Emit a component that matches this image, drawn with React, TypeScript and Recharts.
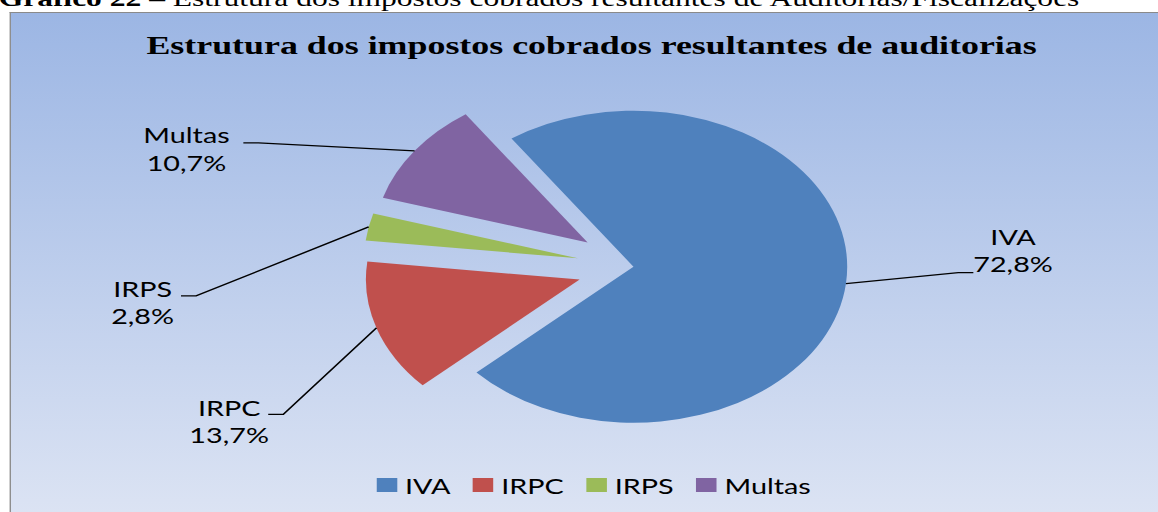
import React from "react";
import { PieChart, Pie, Cell, Legend, Sector } from "recharts";

// values (percent of total)
const CATEGORIES = ["IVA", "IRPC", "IRPS", "Multas"];
const SHARES = [72.8, 13.7, 2.8, 10.7];
const COLORS = ["#4f81bd", "#c0504d", "#9bbb59", "#8064a2"];
const EXPLODED = ["IRPC", "IRPS", "Multas"];

const data = CATEGORIES.map((name, i) => ({ name, value: SHARES[i] }));

// the source picture is stretched horizontally; draw unstretched and scale the box
const STRETCH = 1.37;
const W = 1158 / STRETCH;
const RADIAN = Math.PI / 180;
const EXPLODE = 0.265;
const FONT = "Lato, 'Open Sans', sans-serif";

// label layout relative to the slice edge point (unstretched px)
const LABEL_POS: Record<string, { dx: number; dy: number; stub: number; tx: number; ty: number }> = {
  IVA: { dx: 82, dy: -11, stub: 11, tx: 40, ty: -27.7 },
  IRPC: { dx: -68, dy: 86.5, stub: -11, tx: -39.5, ty: 1.7 },
  IRPS: { dx: -126, dy: 69, stub: -11, tx: -39, ty: 0.7 },
  Multas: { dx: -114, dy: -8, stub: -11, tx: -52.5, ty: 0.3 },
};

const fmt = (v: number) => `${v.toFixed(1).replace(".", ",")}%`;

function sliceName(props: any) {
  return props.payload?.name ?? props.name ?? CATEGORIES[props.index];
}

function explodeOffset(name: string, mid: number, r: number) {
  if (!EXPLODED.includes(name)) return { ox: 0, oy: 0 };
  return { ox: Math.cos(-mid * RADIAN) * r * EXPLODE, oy: Math.sin(-mid * RADIAN) * r * EXPLODE };
}

function Slice(props: any) {
  const { cx, cy, outerRadius, startAngle, endAngle, fill } = props;
  const mid = (startAngle + endAngle) / 2;
  const { ox, oy } = explodeOffset(sliceName(props), mid, outerRadius);
  return (
    <Sector
      cx={cx + ox}
      cy={cy + oy}
      innerRadius={0}
      outerRadius={outerRadius}
      startAngle={startAngle}
      endAngle={endAngle}
      fill={fill}
      stroke="none"
    />
  );
}

function SliceLabel(props: any) {
  const { cx, cy, outerRadius, startAngle, endAngle } = props;
  const name = sliceName(props);
  const idx = CATEGORIES.indexOf(name);
  const mid = (startAngle + endAngle) / 2;
  const { ox, oy } = explodeOffset(name, mid, outerRadius);
  const ex = cx + ox + Math.cos(-mid * RADIAN) * outerRadius;
  const ey = cy + oy + Math.sin(-mid * RADIAN) * outerRadius;
  const p = LABEL_POS[name];
  const bx = ex + p.dx;
  const by = ey + p.dy;
  const tx = bx + p.tx;
  const ty = by + p.ty;
  return (
    <g>
      <polyline
        points={`${ex},${ey} ${bx},${by} ${bx + p.stub},${by}`}
        fill="none"
        stroke="#000"
        strokeWidth={1.4}
      />
      <text x={tx} y={ty} textAnchor="middle" fontFamily={FONT} fontSize={21} fill="#000">
        {name}
      </text>
      <text x={tx} y={ty + 27.4} textAnchor="middle" fontFamily={FONT} fontSize={21} fill="#000">
        {fmt(SHARES[idx])}
      </text>
    </g>
  );
}

function LegendBox(props: any) {
  const payload: any[] = props.payload ?? [];
  const items = CATEGORIES.map((c, i) => {
    const hit = payload.find((p) => p.value === c);
    return { value: c, color: hit?.color ?? COLORS[i] };
  });
  return (
    <div style={{ display: "flex", justifyContent: "center", alignItems: "center", height: 30 }}>
      {items.map((it, i) => (
        <div key={it.value} style={{ display: "flex", alignItems: "center", marginLeft: i ? 16.5 : 0 }}>
          <span style={{ display: "inline-block", width: 14.6, height: 14.6, background: it.color, marginRight: 6 }} />
          <span style={{ fontFamily: FONT, fontSize: 21, color: "#000", lineHeight: "25px" }}>{it.value}</span>
        </div>
      ))}
    </div>
  );
}

export default function App() {
  return (
    <div style={{ position: "absolute", left: 0, top: 0, width: 1158, height: 512, overflow: "hidden", background: "#fff" }}>
      <div style={{ position: "absolute", left: 0, top: 0, width: W, height: 512, transform: `scaleX(${STRETCH})`, transformOrigin: "0 0" }}>
        <div
          style={{
            position: "absolute",
            left: -1,
            top: -12.7,
            whiteSpace: "nowrap",
            fontFamily: "'Liberation Serif', serif",
            fontSize: 23,
            lineHeight: 1,
            color: "#000",
          }}
        >
          <b>Gráfico 22</b> – Estrutura dos impostos cobrados resultantes de Auditorias/Fiscalizações
        </div>
        <div
          style={{
            position: "absolute",
            left: 6.8,
            top: 11.5,
            width: 900,
            height: 520,
            borderLeft: "1.4px solid #8a8a8a",
            borderTop: "1.4px solid #8a8a8a",
            background: "linear-gradient(to bottom, #9cb6e4 0%, #dee5f4 100%)",
          }}
        />
        <div
          style={{
            position: "absolute",
            left: 0,
            top: 33.2,
            width: 2 * 431.8,
            textAlign: "center",
            whiteSpace: "nowrap",
            fontFamily: "'Liberation Serif', serif",
            fontWeight: "bold",
            fontSize: 26.2,
            lineHeight: 1,
            color: "#000",
          }}
        >
          Estrutura dos impostos cobrados resultantes de auditorias
        </div>
        <div style={{ position: "absolute", left: 0, top: 0 }}>
          <PieChart width={866.8} height={512}>
            <Pie
              data={data}
              dataKey="value"
              nameKey="name"
              cx={457.4}
              cy={261.7}
              outerRadius={156}
              startAngle={124.8}
              endAngle={-235.2}
              stroke="none"
              label={SliceLabel}
              labelLine={false}
              shape={Slice}
              inactiveShape={Slice}
              activeShape={Slice}
              isAnimationActive={false}
            >
              {data.map((d, i) => (
                <Cell key={d.name} fill={COLORS[i]} />
              ))}
            </Pie>
            <Legend
              content={LegendBox}
              wrapperStyle={{ position: "absolute", left: 0, top: 470, width: 866.8 }}
            />
          </PieChart>
        </div>
      </div>
    </div>
  );
}
